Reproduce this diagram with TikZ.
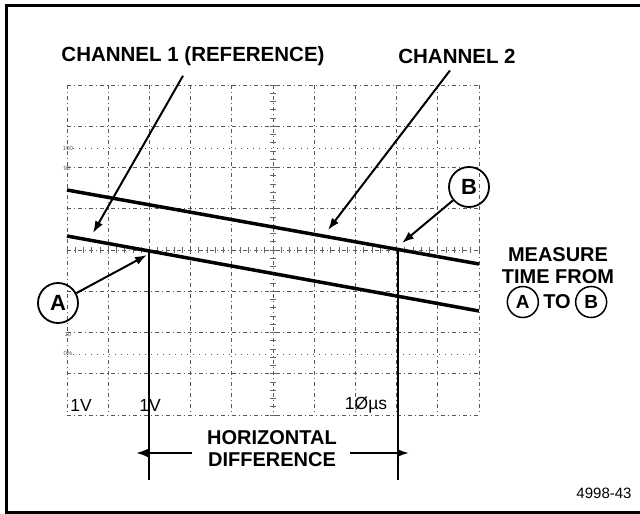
\documentclass[tikz,border=0pt]{standalone}
\usepackage{fontspec}
\setmainfont{Liberation Sans}
\usetikzlibrary{arrows.meta, positioning, calc}
\tikzset{
  chanlabel/.style={font=\fontsize{20.5}{22}\selectfont\bfseries, inner sep=1pt},
  notelabel/.style={font=\fontsize{20}{22}\selectfont\bfseries, align=center, inner sep=1pt},
  scalelabel/.style={font=\fontsize{17.5}{18}\selectfont, inner sep=1pt},
  gratlabel/.style={font=\fontsize{6}{6}\selectfont, text=gray!70!black, inner sep=0pt},
  pointcirc/.style={circle, draw, line width=1.8pt, minimum size=40pt, inner sep=0pt,
    font=\fontsize{22}{22}\selectfont\bfseries},
  smallcirc/.style={circle, draw, line width=1.5pt, minimum size=31pt, inner sep=0pt,
    font=\fontsize{19}{19}\selectfont\bfseries},
  gridline/.style={line width=0.7pt, black!65, dash pattern=on 4pt off 3pt on 1pt off 3pt},
  pctline/.style={line width=0.7pt, black!65, dash pattern=on 1pt off 5pt},
  tickmark/.style={line width=0.7pt, black!60},
  traceline/.style={line width=3.5pt},
  cursorline/.style={line width=2.2pt},
  ptrarrow/.style={-{Latex[length=12pt,width=8.5pt]}, line width=2pt},
  framebox/.style={line width=3pt},
}

\begin{document}
\begin{tikzpicture}[x=1pt, y=-1pt]
  \useasboundingbox (0,0) rectangle (640,514);
  \clip (0,0) rectangle (640,514);
  \draw[framebox] (6,5) rectangle (650,512);

  % graticule
  \foreach \i in {0,...,10}
    \draw[gridline] ({67+41.2*\i},85) -- ({67+41.2*\i},415);
  \foreach \j in {0,...,8}
    \draw[gridline] (67,{85+41.25*\j}) -- (479,{85+41.25*\j});
  \draw[pctline] (67,148) -- (479,148);
  \draw[pctline] (67,354) -- (479,354);
  \foreach \k in {0,...,50}
    \draw[tickmark] ({67+8.24*\k},247) -- ++(0,6);
  \foreach \k in {0,...,40}
    \draw[tickmark] (270,{85+8.25*\k}) -- ++(6,0);
  \node[gratlabel] (g100) at (68,148) {100};
  \node[gratlabel] (g90) at (67,168) {90};
  \node[gratlabel] (g10) at (68,334) {10};
  \node[gratlabel] (g0) at (68,353) {0\%};

  % traces and cursors
  \draw[traceline] (67,190) -- (479,264);
  \draw[traceline] (67,236) -- (479,311);
  \coordinate (ptA) at (149,251);
  \coordinate (ptB) at (398,249);
  \coordinate (aBot) at (149,480);
  \coordinate (bBot) at (398,480);
  \draw[cursorline] (ptA) -- (aBot);
  \draw[cursorline] (ptB) -- (bBot);

  \node[scalelabel] (v1) at (81,405) {1V};
  \node[scalelabel] (v2) at (150,405) {1V};
  \node[scalelabel] (tdiv) at (366,405) {1Øµs};

  % labels and pointers
  \node[chanlabel] (ch1lbl) at (193,56) {CHANNEL 1 (REFERENCE)};
  \node[chanlabel] (ch2lbl) at (457,56) {CHANNEL 2};
  \coordinate (ch1tip) at (93,233);
  \coordinate (ch2tip) at (328,230);
  \draw[ptrarrow] ([xshift=-10pt,yshift=-9pt]ch1lbl.south) -- (ch1tip);
  \draw[ptrarrow] ([xshift=-7pt,yshift=-6pt]ch2lbl.south) -- (ch2tip);

  \node[pointcirc] (circA) at (58,303) {A};
  \node[pointcirc] (circB) at (469,187) {B};
  \coordinate (tipA) at (147,255);
  \coordinate (tipB) at (402,243);
  \draw[ptrarrow] (circA) -- (tipA);
  \draw[ptrarrow] (circB) -- (tipB);

  \node[notelabel] (hdiff) at (272,449) {HORIZONTAL\\DIFFERENCE};
  \draw[ptrarrow, shorten >=1pt] ([xshift=-14pt,yshift=-4pt]hdiff.west) -- ([xshift=-14pt,yshift=-4pt]hdiff.west -| aBot);
  \draw[ptrarrow, shorten >=1pt] ([xshift=12pt,yshift=-4pt]hdiff.east) -- ([xshift=12pt,yshift=-4pt]hdiff.east -| bBot);

  \node[notelabel] (measure) at (558,266) {MEASURE\\TIME FROM};
  \node[notelabel] (tolbl) at (557,302) {TO};
  \node[smallcirc, left=3pt of tolbl] (smA) {A};
  \node[smallcirc, right=3pt of tolbl] (smB) {B};

  \node[font=\fontsize{15}{15}\selectfont] (figno) at (604,493) {4998-43};
\end{tikzpicture}
\end{document}
